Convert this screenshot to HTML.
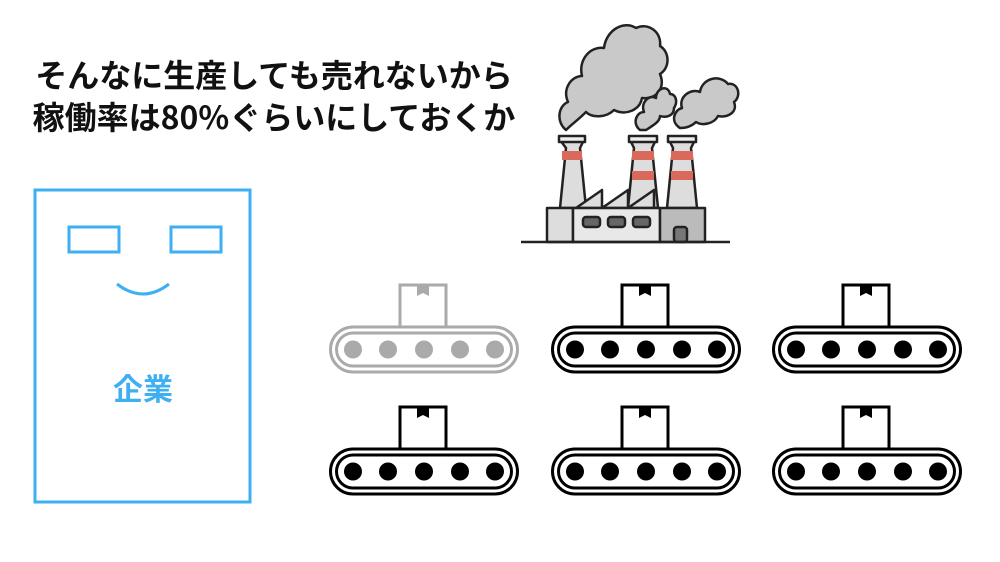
<!DOCTYPE html>
<html><head><meta charset="utf-8"><style>
body{margin:0;background:#fff;width:1000px;height:562px;overflow:hidden;position:relative;font-family:"Liberation Sans","Noto Sans CJK JP",sans-serif}
.t{position:absolute;left:0;width:548px;text-align:center;font-weight:700;font-size:32px;color:#111;line-height:42px;font-family:"Noto Sans CJK JP",sans-serif}
</style></head><body>
<div class="t" style="top:53px">そんなに生産しても売れないから</div>
<div class="t" style="top:95px">稼働率は80%ぐらいにしておくか</div>
<svg width="1000" height="562" style="position:absolute;left:0;top:0">
<defs>
<g id="cv">
<rect x="71" y="5" width="46" height="42" fill="#fff" stroke="currentColor" stroke-width="3"/>
<path d="M88 5v11l6-3 6 3V5z" fill="currentColor"/>
<rect x="1.5" y="47" width="187" height="45" rx="22.5" fill="#fff" stroke="currentColor" stroke-width="3"/>
<rect x="7.5" y="53" width="175" height="33" rx="16.5" fill="none" stroke="currentColor" stroke-width="3"/>
<g fill="currentColor"><circle cx="24" cy="69.5" r="9"/><circle cx="59" cy="69.5" r="9"/><circle cx="95" cy="69.5" r="9"/><circle cx="131" cy="69.5" r="9"/><circle cx="166" cy="69.5" r="9"/></g>
</g>
</defs>
<rect x="35" y="190" width="215" height="312" fill="none" stroke="#3eb0f2" stroke-width="3"/>
<rect x="69" y="227" width="50" height="25" fill="none" stroke="#3eb0f2" stroke-width="3"/>
<rect x="171" y="227" width="50" height="25" fill="none" stroke="#3eb0f2" stroke-width="3"/>
<path d="M117 284q26 20 52 0" fill="none" stroke="#3eb0f2" stroke-width="3"/>
<text x="143" y="400" text-anchor="middle" font-size="30" font-weight="700" fill="#3eb0f2" font-family="Noto Sans CJK JP,sans-serif">企業</text>
<use href="#cv" x="329" y="280" style="color:#aaa"/>
<use href="#cv" x="551" y="280" style="color:#000"/>
<use href="#cv" x="772" y="280" style="color:#000"/>
<use href="#cv" x="329" y="402" style="color:#000"/>
<use href="#cv" x="551" y="402" style="color:#000"/>
<use href="#cv" x="772" y="402" style="color:#000"/>
<g stroke="#222" stroke-width="2.5" stroke-linejoin="round">
<path d="M566 130c-10-8-8-24 2-28-6-14 4-26 14-26-4-16 8-30 22-28 2-18 20-28 32-20 12-6 26 4 24 18 10 6 10 22 0 28 6 14-4 26-18 24 -2 12-16 18-28 12-8 8-22 8-28 2-8 8-14 12-20 18z" fill="#c9c9c9"/>
<path d="M640 130c-8-6-4-18 4-18-4-10 6-18 12-14 0-10 12-14 14-4 6 0 8 8 4 14 0 8-8 10-14 8 0 6-8 10-14 14z" fill="#c9c9c9"/>
<path d="M680 128c-10-6-6-18 2-20-4-12 10-20 18-16 2-14 20-18 28-8 10-2 14 12 6 18 4 10-6 16-16 14-4 8-16 10-22 6-4 4-10 6-16 6z" fill="#c9c9c9"/>
<path d="M560 140h24l-4 8 6 60h-26l6-60z" fill="#ddd"/>
<path d="M630 140h26l-4 8 6 60h-30l6-60z" fill="#ddd"/>
<path d="M669 140h26l-4 8 6 60h-30l6-60z" fill="#ddd"/>
<rect x="559" y="136" width="26" height="6" fill="#eee"/><rect x="629" y="136" width="28" height="6" fill="#eee"/><rect x="668" y="136" width="28" height="6" fill="#eee"/>
<path d="M576 208l26-18v18l26-18v18l26-18v18z" fill="#ddd"/>
<rect x="547" y="208" width="26" height="34" fill="#ddd"/>
<rect x="573" y="208" width="87" height="34" fill="#e8e8e8"/>
<rect x="660" y="208" width="45" height="34" fill="#bbb"/>
<rect x="583" y="217" width="17" height="10" rx="3" fill="#666"/><rect x="608" y="217" width="17" height="10" rx="3" fill="#666"/><rect x="633" y="217" width="17" height="10" rx="3" fill="#666"/>
<rect x="674" y="227" width="13" height="15" rx="3" fill="#777"/>
<line x1="521" y1="242" x2="730" y2="242"/>
</g>
<g fill="#d9695a"><rect x="562" y="151" width="20" height="9"/><rect x="632" y="151" width="22" height="9"/><rect x="632" y="171" width="22" height="9"/><rect x="671" y="151" width="22" height="9"/><rect x="671" y="171" width="22" height="9"/></g>
</svg>
</body></html>
